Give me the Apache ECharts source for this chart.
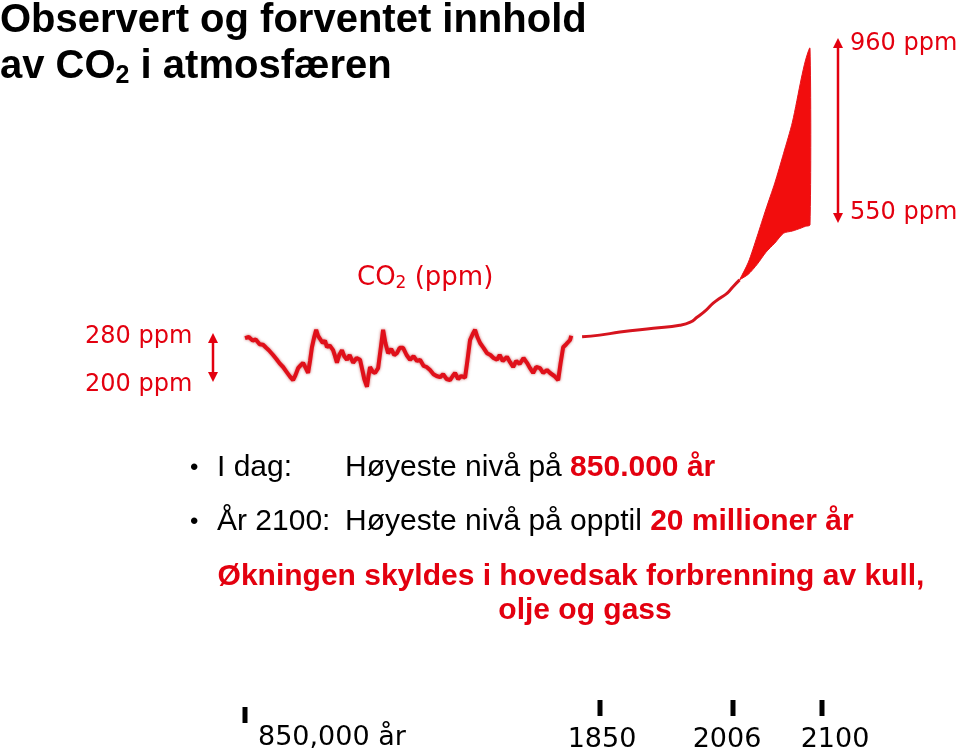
<!DOCTYPE html>
<html><head><meta charset="utf-8">
<script src="https://cdn.jsdelivr.net/npm/echarts@6/dist/echarts.min.js"></script>
<style>html,body{margin:0;padding:0;background:#fff}#c{width:960px;height:754px}</style>
</head><body><div id="c"></div>
<script>
// ---- DATA ----
// Ice core record: thousands of years before present, CO2 (ppm)
const iceKyr = [-850,-840,-830,-822,-812,-803,-795,-788,-777,-768,-760,-751,-742,-733,-725,-719,-712,-705,-699,-692,-686,-681,-676,-670,-665,-660,-655,-648,-642,-637,-630,-621,-616,-611,-605,-598,-592,-585,-578,-569,-560,-551,-545,-540,-533,-529,-525,-518,-512,-504,-497,-491,-485,-478,-470,-462,-455,-448,-439,-430,-421,-412,-403,-395,-386,-378,-369,-360,-352,-343,-335,-326,-317,-310,-304,-296,-288,-278,-272,-265,-258,-252,-246,-239,-230,-221,-212,-204,-195,-188,-180,-169,-161,-153,-145,-136,-126,-117,-109,-101,-93,-83,-75,-65,-57,-46,-36,-30,-23,-15,-5,-2];
const icePpm = [278,280,274,276,268,267,262,258,250,243,236,230,222,214,208,216,228,233,237,228,220,240,263,280,292,282,280,270,274,263,266,258,248,237,250,258,248,242,250,237,245,242,225,210,197,215,230,222,220,228,262,292,270,253,260,250,253,262,262,250,242,248,240,242,232,230,225,218,215,213,218,210,208,215,220,210,215,212,240,275,285,292,280,270,262,253,250,245,242,250,240,247,238,230,240,235,245,237,228,220,230,228,220,225,220,215,208,235,263,268,275,282];
// Observed (instrumental era) CO2
const modernYears = [1841,1861,1884,1922,1952,1964,1972,1981,1990,1998,2006,2012,2020];
const modernPpm   = [292,296,303,312,319,326,338,352,370,382,393,407,424];
// Projection band to 2100
const projYears = [2020,2030,2040,2050,2060,2070,2080,2090,2095,2100];
const projLow   = [424,437,460,488,509,532,537,544,548,551];
const projHigh  = [424,465,525,588,648,717,789,889,933,960];
// Text
const tickLabels = ['850,000 år','1850','2006','2100'];
const levelLabels = ['280 ppm','200 ppm','960 ppm','550 ppm'];

// ---- LAYOUT / STYLE ----
const RED = '#e3000f';
const comic = '"DejaVu Sans", sans-serif';
const arial = '"Liberation Sans", Arial, sans-serif';
const tickPos = [[245,707],[600,700],[733,700],[822,700]];
const labelPos = [[258,738,'left'],[602,740,'center'],[727,740,'center'],[835,740,'center']];

const pair = (xs, ys) => xs.map((x,i)=>[x, ys[i]]);
const bandData = projYears.map((y,i)=>[y, projLow[i], projHigh[i]]);

function arrow(x, y1, y2) {
  return {type:'group', children:[
    {type:'line', shape:{x1:x,y1:y1+6,x2:x,y2:y2-6}, style:{stroke:RED,lineWidth:2.5}},
    {type:'polygon', shape:{points:[[x,y1],[x-5,y1+10],[x+5,y1+10]]}, style:{fill:RED}},
    {type:'polygon', shape:{points:[[x,y2],[x-5,y2-10],[x+5,y2-10]]}, style:{fill:RED}}
  ]};
}
function txt(x, y, text, font, fill, align, rich) {
  const s = {text, font, fill, align: align||'left', verticalAlign:'middle'};
  if (rich) s.rich = rich;
  return {type:'text', x, y, style:s};
}

const chart = echarts.init(document.getElementById('c'));
const graphics = [
  txt(0, 21, 'Observert og forventet innhold', 'bold 40px '+arial, '#000'),
  txt(0, 67, '{a|av CO}{s|2}{a| i atmosfæren}', 'bold 40px '+arial, '#000', 'left', {
    a:{font:'bold 40px '+arial, fill:'#000'},
    s:{font:'bold 25px '+arial, fill:'#000', padding:[18,0,0,0]}
  }),
  txt(357, 278, '{a|CO}{s|2}{a| (ppm)}', '26px '+comic, RED, 'left', {
    a:{font:'26px '+comic, fill:RED},
    s:{font:'17px '+comic, fill:RED, padding:[12,0,0,0]}
  }),
  txt(85, 337, levelLabels[0], '24px '+comic, RED),
  txt(85, 385, levelLabels[1], '24px '+comic, RED),
  txt(850, 44, levelLabels[2], '24px '+comic, RED),
  txt(850, 213, levelLabels[3], '24px '+comic, RED),
  arrow(213, 333, 382),
  arrow(838, 38, 223),
  txt(190, 468, '•', '24px '+arial, '#000'),
  txt(217, 468, 'I dag:', '30px '+arial, '#000'),
  txt(345, 468, '{a|Høyeste nivå på }{b|850.000 år}', '30px '+arial, '#000', 'left', {
    a:{font:'30px '+arial, fill:'#000'}, b:{font:'bold 30px '+arial, fill:RED}
  }),
  txt(190, 522, '•', '24px '+arial, '#000'),
  txt(217, 522, 'År 2100:', '30px '+arial, '#000'),
  txt(345, 522, '{a|Høyeste nivå på opptil }{b|20 millioner år}', '30px '+arial, '#000', 'left', {
    a:{font:'30px '+arial, fill:'#000'}, b:{font:'bold 30px '+arial, fill:RED}
  }),
  txt(571, 577, 'Økningen skyldes i hovedsak forbrenning av kull,', 'bold 30px '+arial, RED, 'center'),
  txt(585, 611, 'olje og gass', 'bold 30px '+arial, RED, 'center')
];
tickPos.forEach(p => graphics.push({type:'rect', shape:{x:p[0]-2.5,y:p[1],width:5,height:16}, style:{fill:'#000'}}));
labelPos.forEach((p,i) => graphics.push(txt(p[0], p[1], tickLabels[i], '27px '+comic, '#000', p[2])));

chart.setOption({
  animation:false,
  backgroundColor:'#fff',
  grid:[
    {left:245, width:327, top:325, height:90},
    {left:581.2, width:228.8, top:31, height:324}
  ],
  xAxis:[
    {gridIndex:0, type:'value', min:-850, max:0, show:false},
    {gridIndex:1, type:'value', min:1840, max:2100, show:false}
  ],
  yAxis:[
    {gridIndex:0, type:'value', min:150, max:300, show:false},
    {gridIndex:1, type:'value', min:250, max:1000, show:false}
  ],
  series:[
    {type:'line', xAxisIndex:0, yAxisIndex:0, data:pair(iceKyr, icePpm), symbol:'none',
     lineStyle:{color:'#e0101a', width:4, shadowColor:'rgba(170,0,0,0.6)', shadowBlur:3}},
    {type:'line', xAxisIndex:1, yAxisIndex:1, data:pair(modernYears, modernPpm), symbol:'none', smooth:true,
     lineStyle:{color:'#d6141e', width:3}},
    {type:'custom', xAxisIndex:1, yAxisIndex:1, data:bandData,
     encode:{x:0, y:[1,2]},
     renderItem:function(params, api){
       if (params.dataIndex !== 0) return null;
       const lo = bandData.map(d=>api.coord([d[0], d[1]]));
       const hi = bandData.map(d=>api.coord([d[0], d[2]])).reverse();
       return {type:'polygon', shape:{points:lo.concat(hi), smooth:0.25},
               style:{fill:'#f20d0d', stroke:'#e8141c', lineWidth:1}};
     }}
  ],
  graphic: graphics
});
</script></body></html>
